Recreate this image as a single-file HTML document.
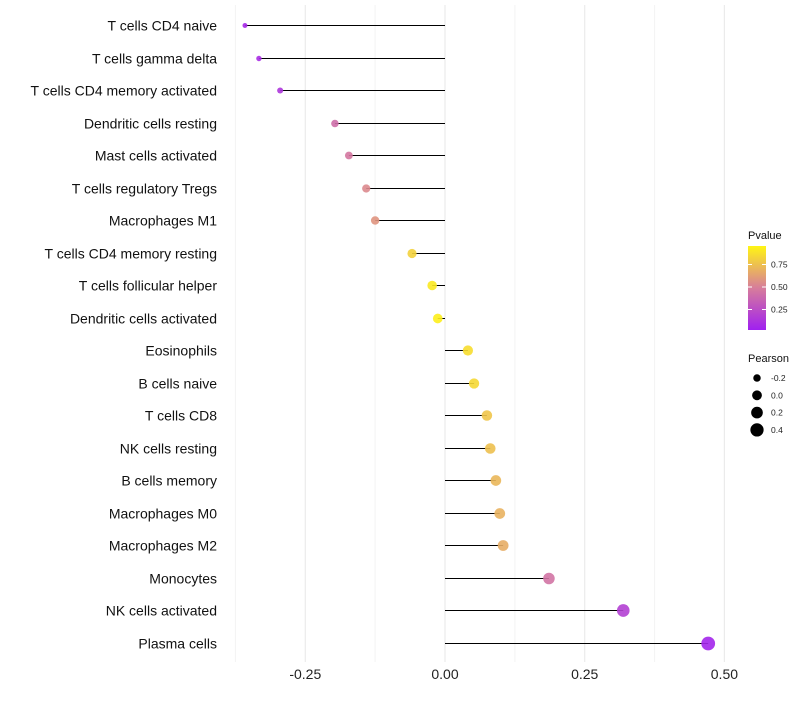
<!DOCTYPE html>
<html><head><meta charset="utf-8"><style>
body{margin:0;background:#fff;font-family:"Liberation Sans",sans-serif}
</style></head><body>
<svg id="chart" width="800" height="700" xmlns="http://www.w3.org/2000/svg"></svg>
<script>
const categories=["T cells CD4 naive","T cells gamma delta","T cells CD4 memory activated","Dendritic cells resting","Mast cells activated","T cells regulatory  Tregs","Macrophages M1","T cells CD4 memory resting","T cells follicular helper","Dendritic cells activated","Eosinophils","B cells naive","T cells CD8","NK cells resting","B cells memory","Macrophages M0","Macrophages M2","Monocytes","NK cells activated","Plasma cells"];
const pearson=[-0.358,-0.333,-0.295,-0.197,-0.172,-0.141,-0.125,-0.059,-0.023,-0.013,0.041,0.052,0.075,0.081,0.091,0.098,0.104,0.186,0.319,0.471];
const pvalues=[0.05,0.07,0.12,0.42,0.47,0.55,0.6,0.85,0.95,0.97,0.9,0.88,0.8,0.78,0.74,0.72,0.7,0.45,0.17,0.03];
const xTicks=[-0.25,0,0.25,0.5];
const xTickLabels=["-0.25","0.00","0.25","0.50"];
const colorTicks=[0.25,0.5,0.75];
const sizeLegend=[-0.2,0,0.2,0.4];
const NS="http://www.w3.org/2000/svg";
const svg=document.getElementById('chart');
const x=v=>445+v*558.8;
const y=i=>Math.round(25+i*32.5)+0.5;
const r=v=>Math.sqrt(Math.max(24+50*v,2.5));
function lerp(a,b,t){return a.map((c,i)=>Math.round(c+(b[i]-c)*t));}
function col(p){const s=[[160,32,240],[215,125,155],[255,245,20]];const c=p<0.5?lerp(s[0],s[1],p/0.5):lerp(s[1],s[2],(p-0.5)/0.5);return `rgb(${c})`;}
function el(t,a,parent){const e=document.createElementNS(NS,t);for(const k in a)e.setAttribute(k,a[k]);(parent||svg).appendChild(e);return e;}
[-0.375,-0.125,0.125,0.375].forEach(v=>{const g=el('line',{x1:x(v),x2:x(v),y1:5,y2:662,stroke:'#f3f3f3','stroke-width':1});

});
xTicks.forEach((v,i)=>{const g=el('line',{x1:x(v),x2:x(v),y1:5,y2:662,stroke:'#ebebeb','stroke-width':1.2});


const t=el('text',{x:x(v),y:679,'text-anchor':'middle','font-size':14,fill:'#222'});t.textContent=xTickLabels[i];

});
categories.forEach((c,i)=>{
const t=el('text',{x:217,y:y(i)+5,'text-anchor':'end','font-size':14,fill:'#111'});t.textContent=c;


const l=el('line',{x1:x(0),x2:x(pearson[i]),y1:y(i),y2:y(i),stroke:'#000','stroke-width':1});


const p=el('circle',{cx:x(pearson[i]),cy:y(i),r:r(pearson[i]),fill:col(pvalues[i]),'fill-opacity':0.9});


});
const defs=el('defs',{});const lg=el('linearGradient',{id:'pg',x1:0,y1:1,x2:0,y2:0},defs);
[0,0.5,1].forEach(o=>el('stop',{offset:o,'stop-color':col(o)},lg));
const lt=el('text',{x:748,y:239,'font-size':11,fill:'#111'});lt.textContent='Pvalue';


const cb=el('rect',{x:748,y:246,width:18,height:84,fill:'url(#pg)'});


const cy=p=>332-p*90;
colorTicks.forEach(p=>{el('line',{x1:748,x2:752,y1:cy(p),y2:cy(p),stroke:'#fff'});el('line',{x1:762,x2:766,y1:cy(p),y2:cy(p),stroke:'#fff'});
const t=el('text',{x:771,y:cy(p)+3,'font-size':8.5,fill:'#222'});t.textContent=p.toFixed(2);

});
const st=el('text',{x:748,y:362,'font-size':11,fill:'#111'});st.textContent='Pearson';


sizeLegend.forEach((v,i)=>{const yy=378+i*17.3;
const c=el('circle',{cx:757,cy:yy,r:r(v),fill:'#000'});


const t=el('text',{x:771,y:yy+3,'font-size':8.5,fill:'#222'});t.textContent=v.toFixed(1);

});
</script>
</body></html>
